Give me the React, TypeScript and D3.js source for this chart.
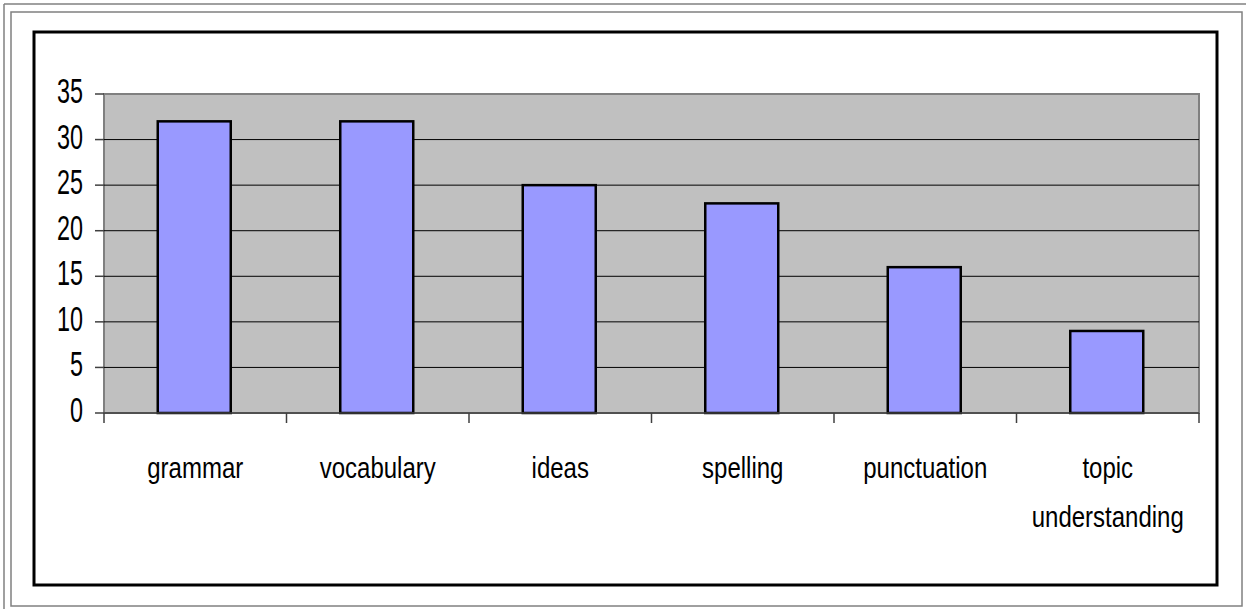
import React from "react";
import { scaleLinear, scaleBand } from "d3";

const categories = ["grammar", "vocabulary", "ideas", "spelling", "punctuation", "topic\nunderstanding"];
const values = [32, 32, 25, 23, 16, 9];
const yTickValues = [0, 5, 10, 15, 20, 25, 30, 35];

const WIDTH = 1246;
const HEIGHT = 609;
const PLOT = { left: 104, right: 1199, top: 94, bottom: 413 };
const FONT = "'Liberation Sans', Arial, sans-serif";

export default function App() {
  const x = scaleBand<string>()
    .domain(categories)
    .range([PLOT.left, PLOT.right])
    .padding(0);
  const y = scaleLinear().domain([0, 35]).range([PLOT.bottom, PLOT.top]);
  const barW = x.bandwidth() * 0.4;

  return (
    <svg
      width={WIDTH}
      height={HEIGHT}
      style={{ position: "absolute", left: 0, top: 0, background: "#fff" }}
    >
      {/* page frame */}
      <line x1={4} y1={4} x2={WIDTH} y2={4} stroke="#808080" strokeWidth={1.5} />
      <line x1={4} y1={4} x2={4} y2={HEIGHT} stroke="#808080" strokeWidth={1.5} />
      <rect x={11} y={12} width={1231} height={594} fill="none" stroke="#808080" strokeWidth={1.5} />
      <rect x={34} y={32} width={1183} height={553} fill="#fff" stroke="#000" strokeWidth={3} />

      {/* plot area */}
      <rect
        x={PLOT.left}
        y={PLOT.top}
        width={PLOT.right - PLOT.left}
        height={PLOT.bottom - PLOT.top}
        fill="#C0C0C0"
        stroke="#808080"
        strokeWidth={2}
      />

      {yTickValues.map((t) => (
        <g key={t}>
          {t > 0 && t < 35 && (
            <line x1={PLOT.left} x2={PLOT.right} y1={y(t)} y2={y(t)} stroke="#000" strokeWidth={1} />
          )}
          <line x1={PLOT.left - 9} x2={PLOT.left} y1={y(t)} y2={y(t)} stroke="#404040" strokeWidth={1.5} />
          <text
            transform={`translate(${PLOT.left - 21},${y(t) + 9}) scale(0.65,1)`}
            textAnchor="end"
            fontFamily={FONT}
            fontSize={36}
            fill="#000"
          >
            {t}
          </text>
        </g>
      ))}

      {/* bars */}
      {categories.map((c, i) => {
        const cx = (x(c) ?? 0) + x.bandwidth() / 2;
        return (
          <rect
            key={c}
            x={cx - barW / 2 - 1}
            y={y(values[i])}
            width={barW}
            height={y(0) - y(values[i])}
            fill="#9999FF"
            stroke="#000"
            strokeWidth={2.5}
          />
        );
      })}

      {/* x axis */}
      <line x1={PLOT.left} x2={PLOT.right} y1={PLOT.bottom} y2={PLOT.bottom} stroke="#404040" strokeWidth={1.5} />
      {categories.concat("__end").map((c, i) => {
        const tx = i < categories.length ? x(c) ?? 0 : PLOT.right;
        return (
          <line key={c} x1={tx} x2={tx} y1={PLOT.bottom} y2={PLOT.bottom + 10} stroke="#404040" strokeWidth={1.5} />
        );
      })}
      {categories.map((c) => {
        const cx = (x(c) ?? 0) + x.bandwidth() / 2;
        return c.split("\n").map((ln, j) => (
          <text
            key={c + j}
            transform={`translate(${cx},${478 + j * 49}) scale(0.8,1)`}
            textAnchor="middle"
            fontFamily={FONT}
            fontSize={30}
            fill="#000"
          >
            {ln}
          </text>
        ));
      })}
    </svg>
  );
}
